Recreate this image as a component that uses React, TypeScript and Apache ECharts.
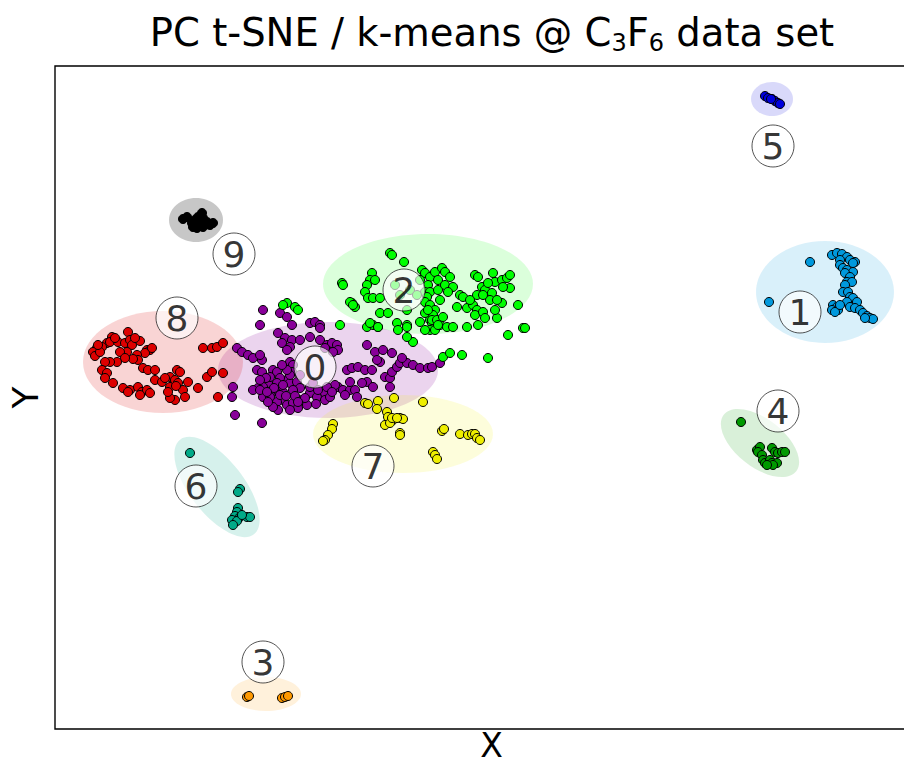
import React, { useEffect, useRef } from "react";
import * as echarts from "echarts";

const FONT = "'DejaVu Sans', 'Noto Sans', sans-serif";

// Embedding coordinates of each k-means cluster (t-SNE units, y grows downward)
const points0 = [
  [263, 310], [280, 313], [287, 317], [292, 325], [310, 323], [315, 322], [320, 325], [320, 328], [278, 333], [285, 338],
  [282, 343], [292, 340], [300, 340], [310, 337], [320, 340], [327, 345], [332, 343], [337, 345], [338, 350], [333, 352],
  [325, 348], [290, 347], [287, 350], [237, 348], [242, 352], [248, 355], [253, 358], [262, 360], [260, 355], [257, 370],
  [262, 372], [273, 370], [277, 372], [290, 362], [293, 365], [292, 372], [287, 380], [280, 378], [268, 383], [263, 387],
  [258, 388], [263, 397], [272, 392], [277, 390], [283, 392], [290, 383], [297, 382], [300, 388], [293, 390], [283, 400],
  [277, 402], [287, 405], [293, 403], [302, 400], [307, 405], [298, 408], [290, 410], [278, 410], [310, 393], [317, 397],
  [325, 393], [325, 400], [330, 397], [338, 387], [335, 385], [343, 390], [350, 390], [355, 390], [357, 397], [347, 370],
  [352, 368], [358, 367], [365, 370], [372, 370], [367, 382], [373, 387], [362, 383], [350, 382], [380, 362], [385, 377],
  [390, 378], [392, 372], [397, 367], [400, 363], [407, 363], [413, 365], [420, 368], [428, 368], [432, 367], [440, 363],
  [390, 387], [367, 345], [375, 352], [383, 350], [377, 360], [392, 353], [402, 358], [233, 387], [232, 397], [235, 415],
  [262, 423], [253, 390], [260, 390], [270, 397], [273, 407], [310, 387], [313, 383], [327, 387], [277, 383], [270, 377],
  [290, 375], [300, 375], [260, 325], [266, 378], [283, 385], [295, 396], [268, 402], [280, 395], [305, 398], [318, 390],
  [274, 388], [286, 396], [260, 380], [298, 402], [287, 370], [282, 365], [316, 404], [332, 392], [345, 395], [267, 392],
];
const points1 = [
  [810, 262], [769, 302], [832, 255], [837, 253], [842, 254], [847, 257], [840, 260], [850, 260], [855, 262], [853, 263],
  [840, 265], [843, 268], [847, 270], [853, 272], [845, 273], [850, 277], [847, 282], [852, 282], [845, 285], [843, 292],
  [848, 292], [850, 297], [853, 298], [847, 302], [857, 302], [850, 307], [855, 308], [860, 310], [863, 313], [867, 316],
  [870, 318], [873, 319], [865, 318], [833, 305], [837, 307], [832, 310], [838, 310], [835, 312], [840, 305],
];
const points2 = [
  [287, 303], [295, 307], [298, 310], [283, 305], [340, 325], [352, 303], [355, 307], [367, 327], [373, 325], [378, 327],
  [397, 323], [407, 325], [413, 342], [430, 320], [432, 323], [440, 325], [443, 357], [450, 353], [390, 253], [392, 255],
  [404, 262], [342, 283], [343, 285], [372, 273], [370, 280], [375, 280], [367, 285], [365, 292], [368, 298], [373, 298],
  [380, 298], [350, 302], [353, 305], [380, 313], [388, 313], [370, 323], [378, 327], [407, 310], [407, 327], [398, 330],
  [407, 337], [422, 270], [425, 273], [430, 277], [435, 272], [442, 268], [445, 272], [450, 277], [438, 280], [428, 285],
  [425, 292], [430, 292], [438, 290], [445, 285], [453, 287], [427, 297], [425, 302], [430, 305], [435, 310], [433, 315],
  [432, 320], [437, 320], [443, 317], [425, 313], [430, 330], [425, 330], [435, 330], [447, 327], [453, 327], [460, 295],
  [463, 297], [457, 307], [467, 308], [473, 305], [477, 310], [475, 315], [483, 312], [485, 318], [478, 325], [467, 327],
  [497, 318], [495, 310], [475, 275], [478, 277], [482, 287], [485, 290], [492, 293], [490, 300], [493, 273], [495, 282],
  [502, 280], [507, 278], [510, 275], [510, 288], [503, 287], [518, 305], [502, 303], [508, 335], [523, 328], [525, 328],
  [477, 295], [483, 295], [462, 355], [488, 358], [395, 285], [400, 295], [410, 290], [420, 280], [417, 295], [440, 300],
  [448, 292], [428, 310], [438, 325], [420, 322], [470, 300], [488, 283], [497, 300],
];
const points3 = [[247, 697], [249, 696], [282, 698], [285, 697], [288, 696]];
const points4 = [
  [741, 422], [757, 450], [760, 447], [758, 452], [762, 455], [772, 448], [775, 452], [778, 453], [782, 452], [785, 452],
  [763, 460], [765, 463], [770, 460], [772, 463], [777, 463], [773, 465], [767, 465],
];
const points5 = [[765, 96], [768, 98], [772, 99], [775, 101], [778, 103], [780, 104], [771, 99]];
const points6 = [
  [190, 453], [240, 489], [238, 492], [238, 508], [237, 512], [235, 516], [232, 520], [240, 517], [247, 517], [250, 517],
  [237, 521], [233, 525], [242, 515],
];
const points7 = [
  [365, 403], [368, 404], [378, 401], [377, 409], [394, 398], [423, 402], [387, 412], [388, 417], [393, 420], [400, 418],
  [403, 419], [385, 425], [390, 423], [400, 433], [400, 435], [333, 424], [332, 429], [328, 435], [325, 440], [323, 441],
  [442, 431], [444, 429], [460, 434], [468, 435], [472, 434], [475, 434], [477, 438], [480, 440], [433, 452], [435, 455],
  [437, 459], [392, 418], [397, 418],
];
const points8 = [
  [128, 332], [112, 337], [107, 343], [102, 347], [97, 348], [93, 352], [95, 356], [100, 352], [110, 342], [118, 342],
  [125, 343], [130, 340], [132, 345], [127, 352], [120, 352], [140, 341], [147, 350], [150, 350], [145, 353], [137, 355],
  [138, 360], [133, 359], [125, 358], [117, 362], [110, 362], [105, 362], [102, 370], [107, 373], [105, 378], [113, 383],
  [123, 388], [130, 390], [138, 387], [142, 392], [147, 390], [150, 393], [140, 395], [143, 368], [148, 370], [155, 370],
  [155, 380], [162, 382], [170, 377], [170, 387], [175, 380], [177, 370], [180, 372], [178, 383], [183, 390], [185, 397],
  [175, 400], [170, 398], [188, 382], [198, 388], [207, 377], [212, 372], [203, 348], [212, 348], [217, 347], [223, 343],
  [223, 373], [218, 397], [98, 345], [115, 338], [135, 338], [152, 348], [168, 392], [176, 386], [165, 378], [128, 392],
];
const points9 = [
  [183, 219], [187, 217], [192, 223], [195, 220], [198, 217], [202, 213], [203, 218], [200, 223], [207, 222], [210, 225],
  [213, 223], [197, 228], [203, 227], [193, 227],
];

const clusterPoints = [points0, points1, points2, points3, points4, points5, points6, points7, points8, points9];
const clusterNames = ["0", "1", "2", "3", "4", "5", "6", "7", "8", "9"];
const clusterColors = [
  [136, 0, 153], [0, 153, 221], [0, 255, 0], [255, 153, 0], [0, 153, 0],
  [0, 0, 221], [0, 170, 136], [238, 238, 0], [221, 0, 0], [0, 0, 0],
];

// Cluster envelopes: centre, semi-axes and tilt (degrees, negative = clockwise)
const ellipseCenters = [
  [328, 370], [825, 292], [428, 284], [266, 694], [760, 443],
  [772, 99], [217, 487], [403, 434], [163, 362], [196, 220],
];
const ellipseRadii = [
  [110, 48], [69, 51], [105, 50], [35, 17], [46, 24],
  [21, 17], [60, 27], [90, 39], [80, 51], [27, 22],
];
const ellipseTilts = [0, 0, 0, 0, -38, 0, -52, 0, 0, 0];
const ellipseAlpha = [0.17, 0.15, 0.14, 0.14, 0.15, 0.15, 0.16, 0.14, 0.17, 0.22];

// Cluster number badges
const labelCenters = [
  [315, 367], [800, 312], [404, 290], [263, 662], [778, 411],
  [773, 146], [196, 486], [373, 466], [177, 318], [234, 254],
];

const X_RANGE = [55, 928];
const Y_RANGE = [66, 729];
const CHART_WIDTH = 940;

const rgb = (c: number[], a = 1) => `rgba(${c[0]},${c[1]},${c[2]},${a})`;

export default function App() {
  const ref = useRef<HTMLDivElement>(null);

  useEffect(() => {
    if (!ref.current) return;
    const chart = echarts.init(ref.current, undefined, { renderer: "svg" });

    const ellipseData = ellipseCenters.map((c, i) => [
      c[0], c[1], ellipseRadii[i][0], ellipseRadii[i][1], ellipseTilts[i], i,
    ]);

    const pointSeries = clusterPoints.map((pts, i) => ({
      type: "scatter",
      name: clusterNames[i],
      data: pts,
      symbol: "circle",
      symbolSize: 9,
      z: 3,
      itemStyle: {
        color: rgb(clusterColors[i]),
        borderColor: "#000",
        borderWidth: 1,
        opacity: 1,
      },
      emphasis: { disabled: true },
    }));

    chart.setOption({
      animation: false,
      backgroundColor: "#fff",
      title: {
        text: "PC t-SNE / k-means @ C{s|3}F{s|6} data set",
        left: 487,
        textAlign: "center",
        top: 4,
        textStyle: {
          fontFamily: FONT,
          fontSize: 38.5,
          fontWeight: "normal",
          color: "#000",
          lineHeight: 46,
          rich: {
            s: {
              fontFamily: FONT,
              fontSize: 24,
              color: "#000",
              lineHeight: 24,
              verticalAlign: "bottom",
            },
          },
        },
      },
      grid: {
        left: X_RANGE[0],
        top: Y_RANGE[0],
        right: CHART_WIDTH - X_RANGE[1],
        height: Y_RANGE[1] - Y_RANGE[0],
        outerBoundsMode: "none",
        containLabel: false,
        show: true,
        borderColor: "#000",
        borderWidth: 1.4,
        backgroundColor: "transparent",
      },
      xAxis: {
        type: "value",
        min: X_RANGE[0],
        max: X_RANGE[1],
        name: "X",
        nameLocation: "middle",
        nameGap: 0,
        nameTextStyle: { fontFamily: FONT, fontSize: 33, lineHeight: 33, color: "#000" },
        axisLine: { show: false },
        axisTick: { show: false },
        axisLabel: { show: false },
        splitLine: { show: false },
      },
      yAxis: {
        type: "value",
        min: Y_RANGE[0],
        max: Y_RANGE[1],
        inverse: true,
        name: "Y",
        nameLocation: "middle",
        nameGap: 12,
        nameTextStyle: { fontFamily: FONT, fontSize: 36, color: "#000" },
        axisLine: { show: false },
        axisTick: { show: false },
        axisLabel: { show: false },
        splitLine: { show: false },
      },
      series: [
        {
          type: "custom",
          name: "envelopes",
          z: 1,
          silent: true,
          data: ellipseData,
          encode: { x: 0, y: 1 },
          renderItem: (_params: any, api: any) => {
            const p = api.coord([api.value(0), api.value(1)]);
            const s = api.size([api.value(2), api.value(3)], [api.value(0), api.value(1)]);
            const idx = api.value(5);
            return {
              type: "ellipse",
              x: p[0],
              y: p[1],
              rotation: (api.value(4) * Math.PI) / 180,
              shape: { cx: 0, cy: 0, rx: s[0], ry: s[1] },
              style: { fill: rgb(clusterColors[idx], ellipseAlpha[idx]) },
            };
          },
        },
        ...pointSeries,
        {
          type: "scatter",
          name: "labels",
          z: 5,
          silent: true,
          data: labelCenters.map((c, i) => [c[0], c[1], clusterNames[i]]),
          symbol: "circle",
          symbolSize: 42,
          itemStyle: {
            color: "rgba(255,255,255,0.82)",
            borderColor: "#111",
            borderWidth: 0.9,
          },
          label: {
            show: true,
            position: "inside",
            formatter: (p: any) => p.value[2],
            fontFamily: FONT,
            fontSize: 36,
            color: "#000",
            textBorderWidth: 0,
          },
        },
      ],
    });

    return () => chart.dispose();
  }, []);

  return (
    <div style={{ position: "absolute", left: 0, top: 0, width: 904, height: 766, overflow: "hidden", background: "#fff" }}>
      <div ref={ref} style={{ width: CHART_WIDTH, height: 766 }} />
    </div>
  );
}
